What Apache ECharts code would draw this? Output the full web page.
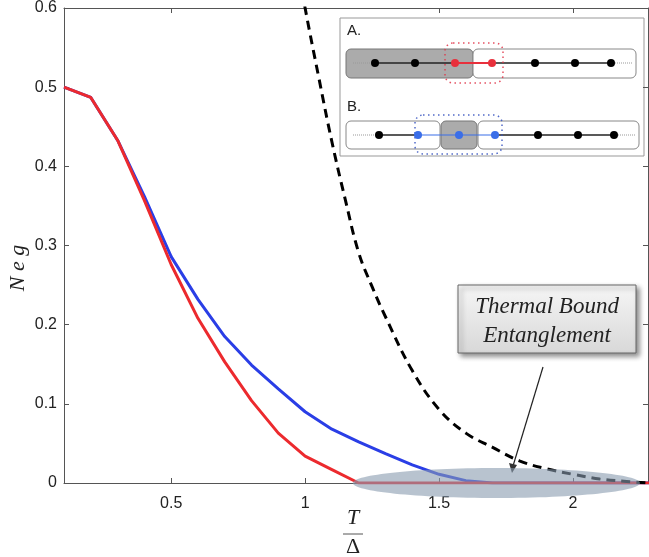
<!DOCTYPE html>
<html><head><meta charset="utf-8">
<script src="https://cdn.jsdelivr.net/npm/echarts@6/dist/echarts.min.js"></script>
<style>html,body{margin:0;padding:0;background:#fff}#c{width:649px;height:557px}</style>
</head><body><div id="c"></div>
<script>
// ---- data ----
const xValues   = [0.1,0.2,0.3,0.4,0.5,0.6,0.7,0.8,0.9,1.0,1.1,1.2,1.3,1.4,1.5,1.6,1.7,1.8,1.9,2.0,2.1,2.2,2.3];
const redValues = [0.500,0.487,0.433,0.357,0.276,0.208,0.153,0.104,0.063,0.034,0.017,0.000,0,0,0,0,0,0,0,0,0,0,0];
const blueValues= [0.500,0.487,0.433,0.362,0.286,0.232,0.185,0.149,0.119,0.090,0.068,0.052,0.037,0.023,0.011,0.003,0,0,0,0,0,0,0];
const dashX     = [0.98,1.0,1.05,1.1,1.15,1.2,1.25,1.3,1.4,1.5,1.6,1.7,1.8,1.9,2.0,2.1,2.2,2.28];
const dashValues= [0.64,0.60,0.514,0.431,0.358,0.291,0.248,0.21,0.142,0.093,0.063,0.045,0.028,0.018,0.011,0.005,0.002,0.0];
const xTicks = [0.5,1,1.5,2];
const yTickLabels = ['0','0.1','0.2','0.3','0.4','0.5','0.6'];
const ellipseCenter = [1.714, 0];
const ellipseHalf = [0.536, 0.019];
const annotationLines = ['Thermal Bound','Entanglement'];

const pairs = (xs, ys) => xs.map((x,i)=>[x, ys[i]]);
const axisColor = '#555';
const labelStyle = {color:'#222', fontFamily:'Liberation Sans, Arial, sans-serif', fontSize:16};

const chart = echarts.init(document.getElementById('c'), null, {renderer:'canvas'});

function R(x,y,w,h,r,fill,stroke,extra){return Object.assign({type:'rect',shape:{x,y,width:w,height:h,r},style:{fill,stroke,lineWidth:1}},extra||{});}
function L(x1,y1,x2,y2,stroke,w,dash){return {type:'line',shape:{x1,y1,x2,y2},style:{stroke,lineWidth:w,lineDash:dash||null}};}
function C(cx,cy,fill){return {type:'circle',shape:{cx,cy,r:4},style:{fill}};}
function T(x,y,t){return {type:'text',x,y,style:{text:t,fill:'#222',font:'15px "Liberation Sans", Arial, sans-serif',textVerticalAlign:'middle'}};}

const red='#e8303c', blue='#3a6ee8';
const inset = {
  type:'group', x:340, y:18, z:50,
  children:[
    R(0,0,304,138,0,'#fff','#999'),
    T(7,13,'A.'),
    R(6,31,127,29,5,'#ababab','#777'),
    R(133,31,163,29,5,'#fff','#888'),
    L(13,45,35,45,'#999',1,[1,1]),
    L(271,45,292,45,'#999',1,[1,1]),
    L(35,45,115,45,'#222',1.5),
    L(152,45,271,45,'#222',1.5),
    L(115,45,152,45,red,1.8),
    R(105,25,58,40,8,null,null,{style:{fill:null,stroke:'rgba(225,50,70,0.85)',lineWidth:1.5,lineDash:[1.5,3.5]}}),
    C(35,45,'#000'),C(75,45,'#000'),C(195,45,'#000'),C(235,45,'#000'),C(271,45,'#000'),
    C(115,45,red),C(152,45,red),
    T(7,89,'B.'),
    R(6,103,94,28,5,'#fff','#888'),
    R(101,103,36,28,5,'#ababab','#777'),
    R(138,103,161,28,5,'#fff','#888'),
    L(13,117,39,117,'#999',1,[1,1]),
    L(274,117,296,117,'#999',1,[1,1]),
    L(39,117,78,117,'#222',1.5),
    L(155,117,274,117,'#222',1.5),
    L(78,117,155,117,blue,1.2),
    R(75,97,87,39,8,null,null,{style:{fill:null,stroke:'rgba(50,80,190,0.85)',lineWidth:1.5,lineDash:[1.5,3.5]}}),
    C(39,117,'#000'),C(198,117,'#000'),C(238,117,'#000'),C(274,117,'#000'),
    C(78,117,blue),C(119,117,blue),C(155,117,blue)
  ]
};

const annotation = {
  type:'group', x:0, y:0, z:60,
  children:[
    {type:'rect', shape:{x:458,y:285,width:178,height:68},
     style:{fill:new echarts.graphic.LinearGradient(0,0,0,1,[{offset:0,color:'#f6f6f6'},{offset:1,color:'#d8d8d8'}]),
            stroke:'#666', lineWidth:1, shadowBlur:5, shadowOffsetX:3, shadowOffsetY:3, shadowColor:'rgba(0,0,0,0.45)'}},
    {type:'text', x:547, y:307, style:{text:annotationLines[0], fill:'#222', font:'italic 23px "Liberation Serif", "Times New Roman", serif', textAlign:'center', textVerticalAlign:'middle'}},
    {type:'text', x:547, y:336, style:{text:annotationLines[1], fill:'#222', font:'italic 23px "Liberation Serif", "Times New Roman", serif', textAlign:'center', textVerticalAlign:'middle'}},
    L(543,367,513,466,'#222',1.2),
    {type:'polygon', shape:{points:[[512,473],[509,463],[517,465]]}, style:{fill:'#333'}}
  ]
};

const axisLabels = {
  type:'group', z:40,
  children:[
    {type:'text', x:18, y:268, rotation:Math.PI/2, style:{text:'N e g', fill:'#222', font:'italic 22px "Liberation Serif", "Times New Roman", serif', textAlign:'center', textVerticalAlign:'middle'}},
    {type:'text', x:353, y:518, style:{text:'T', fill:'#222', font:'italic 22px "Liberation Serif", "Times New Roman", serif', textAlign:'center', textVerticalAlign:'middle'}},
    L(343,534,363,534,'#555',1),
    {type:'text', x:353, y:547, style:{text:'Δ', fill:'#222', font:'22px "Liberation Serif", "Times New Roman", serif', textAlign:'center', textVerticalAlign:'middle'}}
  ]
};

const xBase = {type:'value', min:0.1, max:2.28, splitLine:{show:false},
  axisLine:{show:true,onZero:false,lineStyle:{color:axisColor,width:1}},
  axisTick:{show:true,inside:true,length:5,customValues:xTicks,lineStyle:{color:axisColor}}};
const yBase = {type:'value', min:0, max:0.6, interval:0.1, splitLine:{show:false},
  axisLine:{show:true,onZero:false,lineStyle:{color:axisColor,width:1}},
  axisTick:{show:true,inside:true,length:5,lineStyle:{color:axisColor}}};

chart.setOption({
  animation:false,
  backgroundColor:'#fff',
  grid:{left:64, right:1, top:8, bottom:74, containLabel:false},
  xAxis:[
    Object.assign({}, xBase, {position:'bottom', axisLabel:Object.assign({customValues:xTicks, margin:13, formatter:v=>String(v)}, labelStyle)}),
    Object.assign({}, xBase, {position:'top', axisLabel:{show:false}})
  ],
  yAxis:[
    Object.assign({}, yBase, {position:'left', axisLabel:Object.assign({margin:7, formatter:(v)=>yTickLabels[Math.round(v*10)]}, labelStyle)}),
    Object.assign({}, yBase, {position:'right', axisLabel:{show:false}})
  ],
  series:[
    {type:'line', name:'blue', data:pairs(xValues, blueValues), showSymbol:false, lineStyle:{color:'#2a3ee6', width:3}, z:3},
    {type:'line', name:'red', data:pairs(xValues, redValues), showSymbol:false, lineStyle:{color:'#ec2a2e', width:3}, z:4},
    {type:'line', name:'dashed', data:pairs(dashX, dashValues), showSymbol:false, smooth:0.4, lineStyle:{color:'#000', width:3, type:[9,6]}, z:5}
  ]
});

const c0 = chart.convertToPixel({xAxisIndex:0, yAxisIndex:0}, ellipseCenter);
const c1 = chart.convertToPixel({xAxisIndex:0, yAxisIndex:0}, [ellipseCenter[0]+ellipseHalf[0], ellipseHalf[1]]);
chart.setOption({
  graphic:[
    {type:'ellipse', z:30, shape:{cx:c0[0], cy:c0[1], rx:c1[0]-c0[0], ry:c0[1]-c1[1]}, style:{fill:'rgba(137,155,175,0.6)'}},
    inset, annotation, axisLabels
  ]
});
</script></body></html>
